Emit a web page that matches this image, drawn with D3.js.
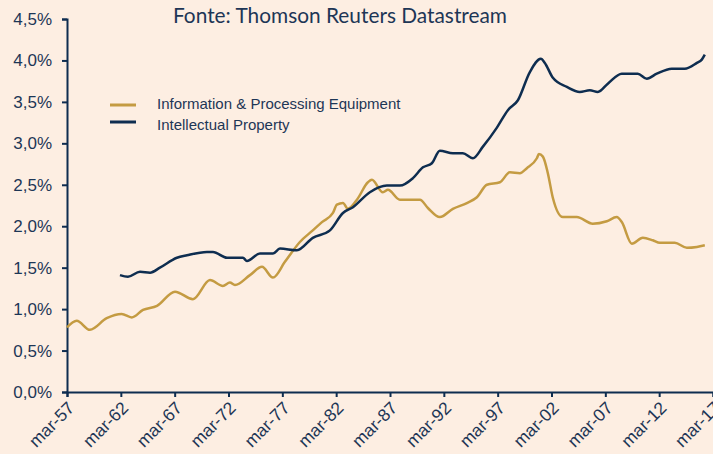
<!DOCTYPE html>
<html>
<head>
<meta charset="utf-8">
<script src="https://cdn.jsdelivr.net/npm/d3@7"></script>
<style>
  html, body { margin: 0; padding: 0; background: #fdeee2; }
  svg { display: block; }
</style>
</head>
<body>
<div id="chart"></div>
<script>
'use strict'

// ---- data (decimal years, % values) ----
const ipeYears = [1957.17, 1958.07, 1959.3, 1960.86, 1962.25, 1963.18, 1964.23, 1965.53, 1967.2, 1968.87,
  1970.45, 1971.65, 1972.3, 1972.77, 1974.16, 1975.28, 1976.3, 1977.41, 1978.8, 1980.0,
  1980.85, 1981.87, 1982.24, 1982.8, 1983.26, 1984.1, 1985.12, 1985.49, 1986.51, 1986.98,
  1988.09, 1989.95, 1990.69, 1991.8, 1993.01, 1994.31, 1995.24, 1996.17, 1997.38, 1998.3,
  1999.23, 1999.88, 2000.81, 2001.0, 2001.37, 2001.83, 2002.3, 2003.22, 2004.52, 2006.0,
  2007.31, 2008.23, 2008.7, 2009.63, 2010.65, 2011.58, 2012.23, 2013.62, 2014.74, 2015.67, 2016.41]
const ipeValues = [0.78, 0.86, 0.75, 0.89, 0.94, 0.90, 0.99, 1.04, 1.21, 1.12,
  1.35, 1.28, 1.32, 1.29, 1.41, 1.51, 1.38, 1.57, 1.81, 1.95,
  2.05, 2.16, 2.26, 2.28, 2.21, 2.32, 2.53, 2.56, 2.41, 2.44,
  2.32, 2.32, 2.22, 2.11, 2.21, 2.28, 2.35, 2.50, 2.53, 2.65,
  2.64, 2.70, 2.82, 2.87, 2.84, 2.64, 2.34, 2.11, 2.11, 2.03,
  2.06, 2.11, 2.05, 1.79, 1.86, 1.83, 1.80, 1.80, 1.74, 1.75, 1.77]

const ipYears = [1962.09, 1962.83, 1963.95, 1964.88, 1965.8, 1967.38, 1968.31, 1970.17, 1970.73, 1972.03,
  1973.51, 1973.88, 1975.09, 1976.3, 1976.95, 1978.53, 1980.0, 1981.59, 1982.8, 1983.73,
  1985.3, 1986.88, 1988.09, 1989.3, 1990.23, 1991.06, 1991.8, 1993.01, 1993.94, 1994.87,
  1995.8, 1997.1, 1998.12, 1999.05, 2000.16, 2001.18, 2001.55, 2002.3, 2003.6, 2004.8,
  2005.73, 2006.47, 2007.4, 2008.7, 2010.18, 2011.02, 2011.95, 2013.34, 2014.55, 2015.67, 2016.13, 2016.41]
const ipValues = [1.41, 1.39, 1.45, 1.44, 1.50, 1.62, 1.65, 1.69, 1.69, 1.62,
  1.62, 1.58, 1.67, 1.67, 1.73, 1.71, 1.86, 1.95, 2.16, 2.23,
  2.41, 2.49, 2.49, 2.58, 2.71, 2.76, 2.91, 2.88, 2.88, 2.82,
  2.96, 3.19, 3.40, 3.52, 3.86, 4.02, 3.97, 3.79, 3.68, 3.62,
  3.64, 3.62, 3.72, 3.84, 3.84, 3.78, 3.84, 3.90, 3.90, 3.97, 4.01, 4.07]

const xTickYears = [1957.17, 1962.17, 1967.17, 1972.17, 1977.17, 1982.17, 1987.17, 1992.17, 1997.17, 2002.17, 2007.17, 2012.17, 2017.17]
const xTickLabels = ['mar-57', 'mar-62', 'mar-67', 'mar-72', 'mar-77', 'mar-82', 'mar-87', 'mar-92', 'mar-97', 'mar-02', 'mar-07', 'mar-12', 'mar-17']
const yTicks = [0, 0.5, 1, 1.5, 2, 2.5, 3, 3.5, 4, 4.5]

const seriesNames = ['Information & Processing Equipment', 'Intellectual Property']
const title = 'Fonte: Thomson Reuters Datastream'

// ---- setup ----
const svgWidth = 713, svgHeight = 454
const margin = { left: 67, right: 0, top: 19, bottom: 62 }
const width = svgWidth - margin.left - margin.right
const height = svgHeight - margin.top - margin.bottom

const navy = '#0e2d50'
const gold = '#c49b42'
const ink = '#1d3656'

const svg = d3.select('#chart').append('svg')
  .attr('width', svgWidth)
  .attr('height', svgHeight)

svg.append('rect').attr('width', svgWidth).attr('height', svgHeight).attr('fill', '#fdeee2')

const g = svg.append('g').attr('transform', `translate(${margin.left},${margin.top})`)

const x = d3.scaleLinear().domain([1957.17, 2017.17]).range([0, width])
const y = d3.scaleLinear().domain([0, 4.5]).range([height, 0])

// y axis
const yAxis = g.append('g')
  .call(d3.axisLeft(y).tickValues(yTicks).tickSize(5).tickPadding(10)
    .tickFormat(d => d3.format('.1f')(d).replace('.', ',') + '%'))
yAxis.select('.domain').attr('stroke', navy).attr('stroke-width', 2)
yAxis.selectAll('.tick line').attr('stroke', navy).attr('stroke-width', 2)
yAxis.selectAll('.tick text')
  .attr('fill', ink)
  .style('font-family', '"Liberation Sans", Arial, sans-serif')
  .style('font-size', '17px')

// x axis
const xAxis = g.append('g')
  .attr('transform', `translate(0,${height})`)
  .call(d3.axisBottom(x).tickValues(xTickYears).tickSize(5)
    .tickFormat((d, i) => xTickLabels[i]))
xAxis.select('.domain').attr('stroke', navy).attr('stroke-width', 2)
xAxis.selectAll('.tick line').attr('stroke', navy).attr('stroke-width', 2)
xAxis.selectAll('.tick text')
  .attr('fill', ink)
  .attr('text-anchor', 'end')
  .attr('dy', null)
  .attr('y', 0)
  .attr('transform', 'translate(8,17) rotate(-45)')
  .style('font-family', '"Liberation Sans", Arial, sans-serif')
  .style('font-size', '17.5px')

// lines
const line = d3.line()
  .x(d => x(d[0]))
  .y(d => y(d[1]))
  .curve(d3.curveMonotoneX)

g.append('path')
  .datum(d3.zip(ipeYears, ipeValues))
  .attr('fill', 'none')
  .attr('stroke', gold)
  .attr('stroke-width', 2.5)
  .attr('stroke-linejoin', 'round')
  .attr('d', line)

g.append('path')
  .datum(d3.zip(ipYears, ipValues))
  .attr('fill', 'none')
  .attr('stroke', navy)
  .attr('stroke-width', 2.5)
  .attr('stroke-linejoin', 'round')
  .attr('d', line)

// legend
const legend = svg.append('g')
const legendColors = [gold, navy]
seriesNames.forEach((name, i) => {
  const yy = 105 + i * 17
  legend.append('line')
    .attr('x1', 110).attr('x2', 136)
    .attr('y1', yy).attr('y2', yy)
    .attr('stroke', legendColors[i]).attr('stroke-width', 3)
  legend.append('text')
    .attr('x', 157).attr('y', 109 + i * 21)
    .attr('fill', ink)
    .style('font-family', '"Liberation Sans", Arial, sans-serif')
    .style('font-size', '15px')
    .text(name)
})

// title
svg.append('text')
  .attr('x', 173).attr('y', 23)
  .attr('fill', ink)
  .attr('textLength', 334)
  .attr('lengthAdjust', 'spacingAndGlyphs')
  .style('font-family', 'Lato, "Noto Sans", sans-serif')
  .style('font-size', '21px')
  .text(title)
</script>
</body>
</html>
